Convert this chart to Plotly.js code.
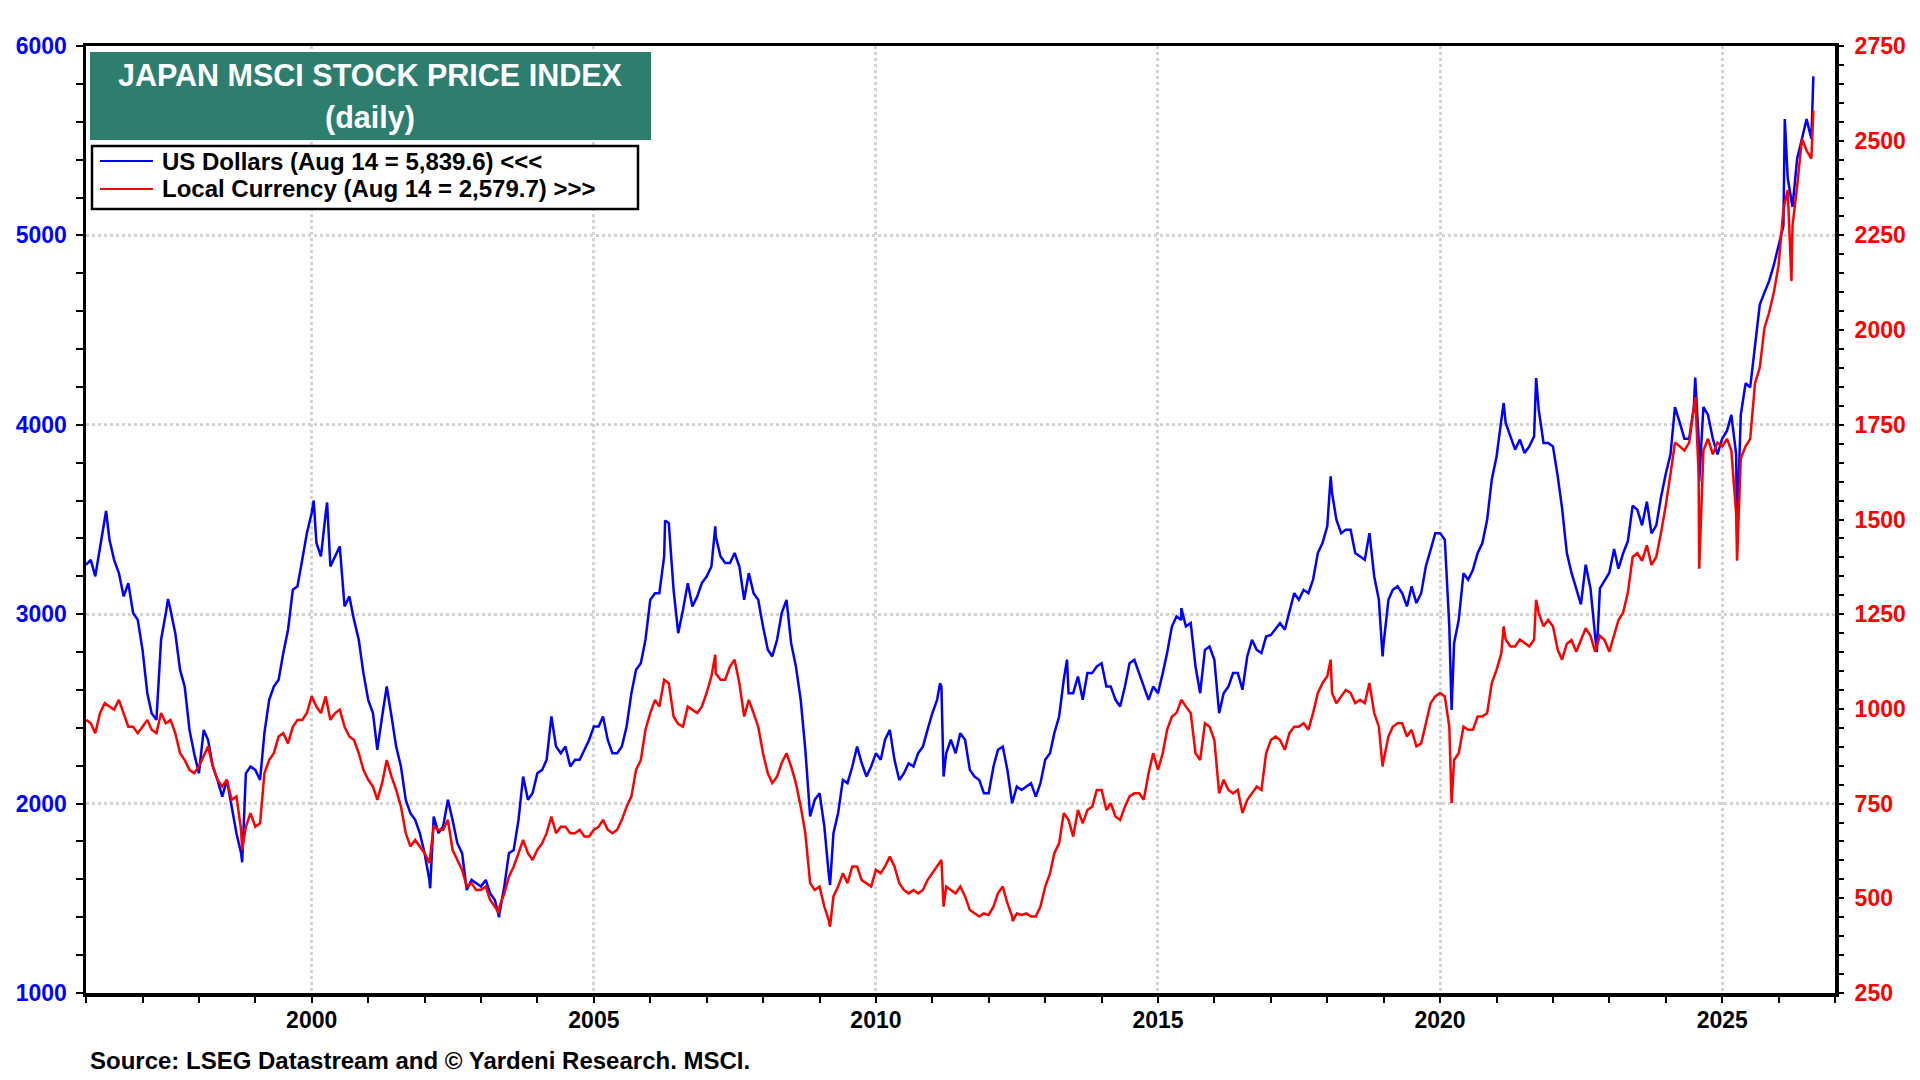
<!DOCTYPE html>
<html>
<head>
<meta charset="utf-8">
<script src="https://cdn.plot.ly/plotly-3.0.1.min.js"></script>
<style>
  html, body { margin: 0; padding: 0; background: #ffffff; }
  #chart { width: 1920px; height: 1080px; }
</style>
</head>
<body>
<div id="chart"></div>
<script>
// ---- Data (monthly readings, first day of each month, from Jan 1996) ----
const startYear = 1996;

const usdMonthly = [
  // 1996
  3261, 3287, 3200, 3358, 3500, 3393, 3287, 3217, 3094, 3164, 3006, 2970,
  // 1997
  2812, 2583, 2477, 2442, 2865, 3006, 3023, 2900, 2706, 2618, 2389, 2266,
  // 1998
  2160, 2389, 2337, 2196, 2125, 2037, 2125, 1984, 1843, 1738, 2160, 2196,
  // 1999
  2178, 2125, 2372, 2548, 2618, 2654, 2794, 2918, 3129, 3147, 3287, 3428,
  // 2000
  3534, 3376, 3305, 3534, 3252, 3305, 3358, 3041, 3094, 2970, 2865, 2689,
  // 2001
  2548, 2477, 2284, 2460, 2618, 2460, 2301, 2196, 2020, 1949, 1914, 1844,
  // 2002
  1738, 1597, 1932, 1844, 1879, 2020, 1914, 1791, 1738, 1544, 1597, 1579,
  // 2003
  1562, 1597, 1527, 1491, 1421, 1562, 1738, 1755, 1914, 2143, 2020, 2055,
  // 2004
  2160, 2178, 2231, 2460, 2301, 2266, 2301, 2196, 2231, 2231, 2284, 2336,
  // 2005
  2407, 2407, 2460, 2336, 2266, 2266, 2301, 2407, 2583, 2706, 2741, 2865,
  // 2006
  3076, 3111, 3111, 3305, 3481, 3129, 2900, 3023, 3164, 3041, 3094, 3164,
  // 2007
  3199, 3252, 3411, 3305, 3270, 3270, 3323, 3252, 3076, 3217, 3111, 3076,
  // 2008
  2935, 2812, 2777, 2865, 3006, 3076, 2847, 2724, 2548, 2284, 1932, 2020,
  // 2009
  2055, 1879, 1632, 1844, 1949, 2125, 2108, 2196, 2301, 2213, 2143, 2196,
  // 2010
  2266, 2231, 2337, 2389, 2231, 2125, 2160, 2213, 2196, 2266, 2301, 2389,
  // 2011
  2477, 2548, 2618, 2266, 2337, 2266, 2372, 2337, 2178, 2143, 2125, 2055,
  // 2012
  2055, 2196, 2284, 2301, 2178, 2002, 2090, 2072, 2090, 2108, 2037, 2108,
  // 2013
  2231, 2266, 2372, 2460, 2654, 2583, 2583, 2671, 2548, 2689, 2689, 2724,
  // 2014
  2741, 2618, 2618, 2548, 2513, 2618, 2741, 2759, 2689, 2618, 2548, 2618,
  // 2015
  2583, 2689, 2795, 2935, 2988, 2970, 2935, 2953, 2724, 2583, 2812, 2830,
  // 2016
  2759, 2477, 2583, 2618, 2689, 2689, 2601, 2777, 2865, 2812, 2795, 2882,
  // 2017
  2890, 2920, 2953, 2918, 3006, 3111, 3076, 3129, 3111, 3182, 3323, 3376,
  // 2018
  3464, 3640, 3499, 3428, 3446, 3446, 3323, 3305, 3287, 3428, 3199, 3076,
  // 2019
  2847, 3076, 3129, 3147, 3111, 3041, 3147, 3059, 3111, 3252, 3340, 3428,
  // 2020
  3428, 3393, 2935, 2847, 2970, 3217, 3182, 3235, 3323, 3376, 3499, 3710,
  // 2021
  3833, 4027, 4010, 3939, 3869, 3922, 3851, 3886, 3939, 4080, 3904, 3904,
  // 2022
  3886, 3728, 3560, 3323, 3219, 3136, 3052, 3261, 3136, 2886, 3136, 3177,
  // 2023
  3219, 3344, 3240, 3323, 3386, 3573, 3552, 3469, 3594, 3427, 3469, 3615,
  // 2024
  3740, 3844, 4094, 4011, 3927, 3927, 4094, 3927, 4094, 4052, 3927, 3844,
  // 2025
  3927, 3969, 4052, 3844, 4052, 4219, 4198, 4427, 4635, 4698, 4760, 4844,
  // 2026 (Jan-Aug)
  4948, 5050, 5302, 5150, 5406, 5510, 5614, 5510
];

const localMonthly = [
  // 1996
  971, 962, 936, 989, 1015, 1006, 998, 1024, 989, 953, 953, 936,
  // 1997
  953, 971, 945, 936, 989, 962, 971, 936, 883, 865, 839, 830,
  // 1998
  848, 874, 901, 848, 813, 795, 813, 760, 769, 681, 689, 725,
  // 1999
  689, 698, 830, 865, 883, 927, 936, 909, 953, 971, 971, 989,
  // 2000
  1033, 1006, 989, 1033, 971, 989, 998, 953, 927, 918, 883, 839,
  // 2001
  813, 795, 760, 804, 865, 821, 786, 742, 672, 637, 654, 637,
  // 2002
  619, 593, 689, 681, 681, 707, 628, 601, 575, 531, 540, 522,
  // 2003
  522, 531, 496, 478, 478, 513, 557, 584, 619, 654, 619, 601,
  // 2004
  628, 645, 672, 716, 672, 689, 689, 672, 672, 681, 663, 663,
  // 2005
  681, 689, 707, 681, 672, 681, 707, 742, 769, 839, 865, 945,
  // 2006
  989, 1024, 1006, 1077, 1068, 980, 960, 953, 1006, 998, 989, 1006,
  // 2007
  1042, 1086, 1094, 1077, 1077, 1112, 1130, 1068, 980, 1024, 989, 953,
  // 2008
  883, 830, 804, 821, 857, 883, 848, 804, 742, 672, 540, 522,
  // 2009
  531, 478, 443, 505, 531, 566, 540, 584, 584, 548, 540, 531,
  // 2010
  575, 566, 584, 610, 584, 540, 522, 513, 522, 513, 522, 548,
  // 2011
  566, 584, 601, 531, 522, 513, 531, 505, 469, 460, 452, 460,
  // 2012
  456, 478, 513, 531, 487, 452, 460, 456, 460, 452, 452, 478,
  // 2013
  531, 566, 619, 645, 725, 707, 663, 733, 698, 733, 742, 786,
  // 2014
  786, 733, 751, 716, 707, 742, 769, 777, 777, 760, 830, 883,
  // 2015
  839, 883, 945, 980, 989, 1024, 1006, 989, 883, 865, 962, 953,
  // 2016
  918, 777, 813, 786, 777, 786, 725, 760, 777, 795, 786, 883,
  // 2017
  918, 927, 918, 892, 936, 953, 953, 962, 945, 989, 1042, 1068,
  // 2018
  1086, 1042, 1015, 1033, 1050, 1042, 1015, 1024, 1015, 1068, 989, 953,
  // 2019
  865, 927, 953, 962, 962, 927, 945, 901, 909, 962, 1015, 1033,
  // 2020
  1042, 1033, 953, 865, 883, 953, 945, 945, 980, 980, 989, 1068,
  // 2021
  1103, 1147, 1183, 1165, 1165, 1183, 1174, 1165, 1183, 1253, 1218, 1235,
  // 2022
  1218, 1156, 1130, 1172, 1182, 1151, 1182, 1213, 1193, 1151, 1193, 1182,
  // 2023
  1151, 1193, 1234, 1255, 1307, 1401, 1411, 1391, 1432, 1380, 1401, 1464,
  // 2024
  1536, 1620, 1703, 1693, 1682, 1703, 1797, 1620, 1682, 1713, 1672, 1703,
  // 2025
  1693, 1713, 1682, 1516, 1661, 1693, 1713, 1859, 1901, 2005, 2047, 2099,
  // 2026 (Jan-Aug)
  2172, 2318, 2370, 2276, 2380, 2505, 2474, 2453
];

// Notable daily highs/lows
const usdExtremeDates = ['1996-05-10','1997-06-15','1998-10-08','2000-01-14','2000-04-10','2002-02-06',
  '2003-04-28','2006-04-07','2007-02-26','2009-03-10','2011-02-20','2011-03-15','2013-05-22',
  '2015-06-01','2018-01-23','2018-12-25','2020-03-16','2021-02-16','2021-09-14','2022-10-12',
  '2024-07-10','2024-08-05','2025-04-07','2026-02-10','2026-08-14'];
const usdExtremeVals = [3545, 3080, 1690, 3600, 3590, 1553,
  1400, 3495, 3464, 1570, 2636, 2143, 2760,
  3032, 3728, 2777, 2495, 4115, 4247, 2800,
  4250, 3700, 3427, 5614, 5839.6];

const localExtremeDates = ['1998-10-08','2003-04-28','2007-02-26','2009-03-10','2011-03-15','2012-06-04',
  '2018-01-23','2018-12-25','2020-03-16','2021-02-16','2021-09-14','2024-07-11','2024-08-05',
  '2025-04-07','2026-03-25','2026-08-14'];
const localExtremeVals = [628, 460, 1143, 425, 478, 440,
  1130, 848, 751, 1218, 1288, 1823, 1370,
  1391, 2130, 2579.7];

const xTickYears = ['2000','2005','2010','2015','2020','2025'];
const leftTicks = [1000, 2000, 3000, 4000, 5000, 6000];
const rightTicks = [250, 500, 750, 1000, 1250, 1500, 1750, 2000, 2250, 2500, 2750];

const titleLine1 = 'JAPAN MSCI STOCK PRICE INDEX';
const titleLine2 = '(daily)';
const legendUsd = 'US Dollars (Aug 14 = 5,839.6) <<<';
const legendLocal = 'Local Currency (Aug 14 = 2,579.7) >>>';
const sourceText = 'Source: LSEG Datastream and © Yardeni Research. MSCI.';

// ---- Build series ----
function pad(n) { return (n < 10 ? '0' : '') + n; }
function buildSeries(monthly, exDates, exVals) {
  const pts = [];
  for (let i = 0; i < monthly.length; i++) {
    const y = startYear + Math.floor(i / 12);
    const m = (i % 12) + 1;
    pts.push([y + '-' + pad(m) + '-01', monthly[i]]);
  }
  for (let j = 0; j < exDates.length; j++) pts.push([exDates[j], exVals[j]]);
  pts.sort((a, b) => (a[0] < b[0] ? -1 : a[0] > b[0] ? 1 : 0));
  return { x: pts.map(p => p[0]), y: pts.map(p => p[1]) };
}
const usd = buildSeries(usdMonthly, usdExtremeDates, usdExtremeVals);
const loc = buildSeries(localMonthly, localExtremeDates, localExtremeVals);

const FONT = 'Liberation Sans, Arial, Helvetica, sans-serif';

// pixel helpers for the overlay boxes (plot area: x 86..1835, y 46..993)
const PL = 86, PW = 1749, PT = 46, PH = 947;
const px = v => (v - PL) / PW;
const py = v => 1 - (v - PT) / PH;

const traces = [
  { x: usd.x, y: usd.y, type: 'scatter', mode: 'lines', name: legendUsd,
    line: { color: '#0000ff', width: 2.5 }, yaxis: 'y', showlegend: false, hoverinfo: 'skip' },
  { x: loc.x, y: loc.y, type: 'scatter', mode: 'lines', name: legendLocal,
    line: { color: '#ff0000', width: 2.5 }, yaxis: 'y2', showlegend: false, hoverinfo: 'skip' }
];

const layout = {
  width: 1920, height: 1080,
  margin: { l: 86, r: 85, t: 46, b: 87 },
  paper_bgcolor: '#ffffff', plot_bgcolor: '#ffffff',
  showlegend: false,
  font: { family: FONT, color: '#000000' },
  xaxis: {
    type: 'date',
    range: ['1996-01-01', '2027-01-01'],
    tickmode: 'array',
    tickvals: xTickYears.map(y => y + '-01-01'),
    ticktext: xTickYears,
    ticks: 'outside', ticklen: 6, tickwidth: 2, tickcolor: '#000',
    tickfont: { family: FONT, size: 23, color: '#000', weight: 'bold' },
    ticklabelstandoff: -2,
    showgrid: true, gridcolor: '#d4d4d4', gridwidth: 3, griddash: 'dot',
    minor: { dtick: 'M12', tick0: '1996-01-01', ticks: 'outside', ticklen: 6, tickwidth: 2, tickcolor: '#000', showgrid: false },
    showline: true, linecolor: '#000', linewidth: 3.5, mirror: true,
    zeroline: false, fixedrange: true
  },
  yaxis: {
    range: [1000, 6000],
    tickmode: 'array', tickvals: leftTicks, ticktext: leftTicks.map(String),
    ticks: 'outside', ticklen: 7, tickwidth: 2, tickcolor: '#000',
    tickfont: { family: FONT, size: 23, color: '#0000ff', weight: 'bold' },
    ticklabelstandoff: 4,
    showgrid: true, gridcolor: '#d4d4d4', gridwidth: 3, griddash: 'dot',
    minor: { dtick: 200, tick0: 1000, ticks: 'outside', ticklen: 7, tickwidth: 2, tickcolor: '#000', showgrid: false },
    showline: true, linecolor: '#000', linewidth: 3.5, mirror: true,
    zeroline: false, fixedrange: true
  },
  yaxis2: {
    overlaying: 'y', side: 'right',
    range: [250, 2750],
    tickmode: 'array', tickvals: rightTicks, ticktext: rightTicks.map(String),
    ticks: 'outside', ticklen: 8, tickwidth: 2, tickcolor: '#000',
    tickfont: { family: FONT, size: 23, color: '#ff0000', weight: 'bold' },
    ticklabelstandoff: 6,
    showgrid: false,
    minor: { dtick: 50, tick0: 250, ticks: 'outside', ticklen: 8, tickwidth: 2, tickcolor: '#000', showgrid: false },
    showline: false, zeroline: false, fixedrange: true
  },
  shapes: [
    // title box
    { type: 'rect', xref: 'paper', yref: 'paper', layer: 'above',
      x0: px(90), x1: px(651), y0: py(140), y1: py(52),
      fillcolor: '#2e7e70', line: { width: 0 } },
    // legend box
    { type: 'rect', xref: 'paper', yref: 'paper', layer: 'above',
      x0: px(92), x1: px(638), y0: py(209), y1: py(146),
      fillcolor: '#ffffff', line: { color: '#000', width: 2.5 } },
    // legend samples
    { type: 'line', xref: 'paper', yref: 'paper', layer: 'above',
      x0: px(100), x1: px(153), y0: py(161), y1: py(161),
      line: { color: '#0000ff', width: 2 } },
    { type: 'line', xref: 'paper', yref: 'paper', layer: 'above',
      x0: px(100), x1: px(153), y0: py(189), y1: py(189),
      line: { color: '#ff0000', width: 2 } }
  ],
  annotations: [
    { xref: 'paper', yref: 'paper', x: px(370), y: py(75),
      xanchor: 'center', yanchor: 'middle', showarrow: false,
      text: '<b>' + titleLine1 + '</b>', font: { family: FONT, size: 30.5, color: '#ffffff' } },
    { xref: 'paper', yref: 'paper', x: px(370), y: py(118),
      xanchor: 'center', yanchor: 'middle', showarrow: false,
      text: '<b>' + titleLine2 + '</b>', font: { family: FONT, size: 30.5, color: '#ffffff' } },
    { xref: 'paper', yref: 'paper', x: px(160), y: py(161),
      xanchor: 'left', yanchor: 'middle', showarrow: false,
      text: '<b>' + legendUsd.replace(/</g, '&lt;') + '</b>', font: { family: FONT, size: 24, color: '#000' } },
    { xref: 'paper', yref: 'paper', x: px(160), y: py(189),
      xanchor: 'left', yanchor: 'middle', showarrow: false,
      text: '<b>' + legendLocal.replace(/>/g, '&gt;') + '</b>', font: { family: FONT, size: 24, color: '#000' } },
    { xref: 'paper', yref: 'paper', x: px(88), y: py(1060),
      xanchor: 'left', yanchor: 'middle', showarrow: false,
      text: '<b>' + sourceText + '</b>', font: { family: FONT, size: 24, color: '#000' } }
  ]
};

Plotly.newPlot('chart', traces, layout, { staticPlot: true, displayModeBar: false });
</script>
</body>
</html>
